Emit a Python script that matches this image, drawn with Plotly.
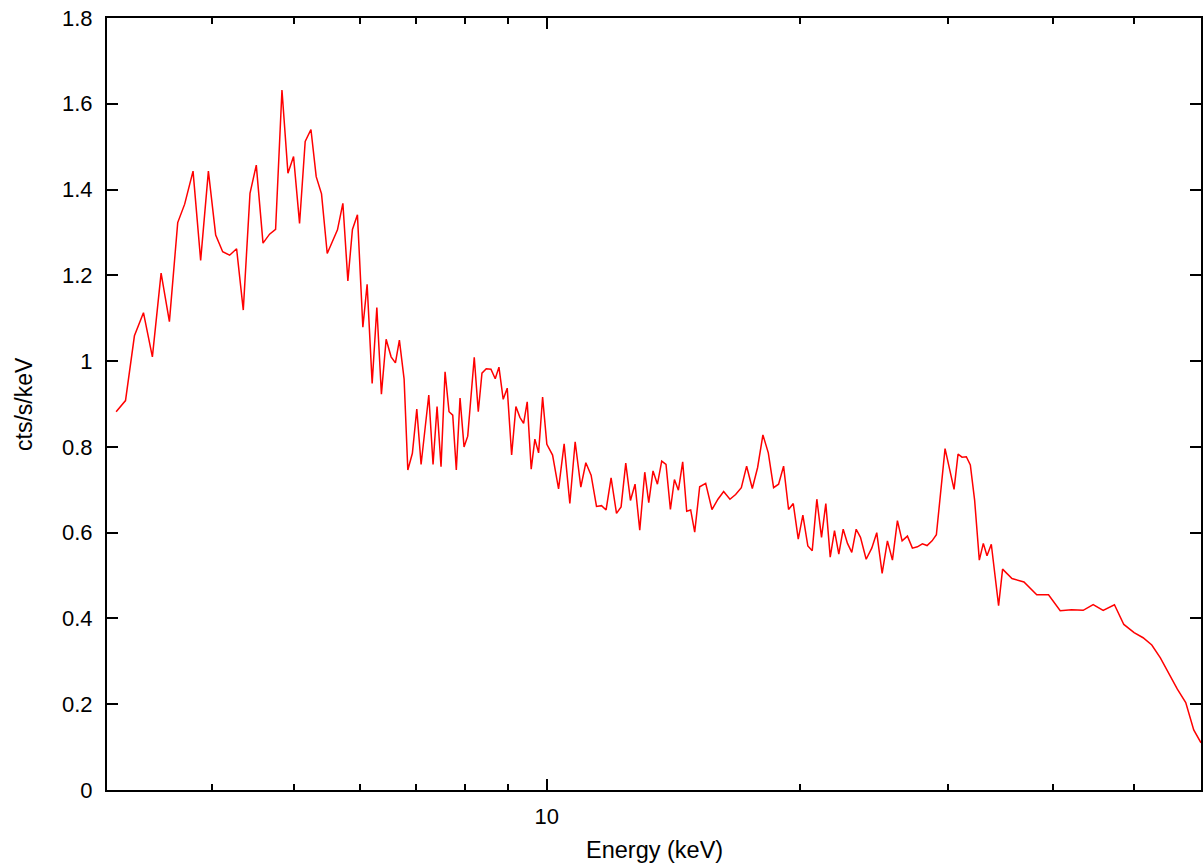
import plotly.graph_objects as go

energy = [3.076, 3.156, 3.234, 3.315, 3.397, 3.479, 3.559, 3.641, 3.711, 3.797,
          3.877, 3.960, 4.040, 4.118, 4.197, 4.278, 4.357, 4.438, 4.515, 4.599,
          4.682, 4.760, 4.844, 4.924, 5.000, 5.083, 5.162, 5.244, 5.320, 5.398,
          5.483, 5.639, 5.723, 5.802, 5.875, 5.956, 6.045, 6.116, 6.201, 6.281,
          6.360, 6.443, 6.531, 6.609, 6.681, 6.768, 6.837, 6.923, 7.007, 7.090,
          7.241, 7.326, 7.407, 7.488, 7.571, 7.654, 7.732, 7.808, 7.888, 7.975,
          8.056, 8.201, 8.292, 8.376, 8.475, 8.585, 8.686, 8.775, 8.878, 8.976,
          9.085, 9.192, 9.293, 9.388, 9.481, 9.585, 9.682, 9.781, 9.889, 10.005,
          10.163, 10.331, 10.490, 10.655, 10.811, 10.980, 11.132, 11.294, 11.462, 11.620,
          11.767, 11.929, 12.107, 12.260, 12.418, 12.579, 12.738, 12.903, 13.081, 13.225,
          13.381, 13.543, 13.703, 13.865, 14.033, 14.188, 14.344, 14.513, 14.673, 14.834,
          14.998, 15.204, 15.456, 15.724, 15.984, 16.235, 16.518, 16.777, 17.041, 17.290,
          17.561, 17.818, 18.078, 18.347, 18.615, 18.871, 19.131, 19.394, 19.645, 19.915,
          20.168, 20.445, 20.693, 20.955, 21.226, 21.477, 21.737, 21.994, 22.254, 22.523,
          22.790, 23.059, 23.339, 23.615, 23.986, 24.356, 24.691, 25.058, 25.424, 25.774,
          26.129, 26.467, 26.854, 27.223, 27.598, 27.978, 28.340, 28.730, 29.070, 29.770,
          30.512, 30.847, 31.187, 31.556, 31.903, 32.280, 32.698, 33.057, 33.393, 33.788,
          34.470, 34.849, 35.756, 36.949, 38.265, 39.520, 40.805, 42.086, 43.454, 44.659,
          45.897, 47.338, 48.571, 49.958, 51.203, 52.436, 53.683, 55.081, 56.238, 57.545,
          58.818, 60.0]

counts = [0.882, 0.908, 1.059, 1.113, 1.010, 1.205, 1.092, 1.323, 1.366, 1.443,
          1.235, 1.443, 1.294, 1.255, 1.247, 1.262, 1.119, 1.391, 1.457, 1.275,
          1.296, 1.307, 1.632, 1.438, 1.477, 1.321, 1.512, 1.540, 1.430, 1.390,
          1.251, 1.306, 1.368, 1.187, 1.307, 1.341, 1.079, 1.179, 0.948, 1.125,
          0.923, 1.051, 1.010, 0.996, 1.049, 0.958, 0.746, 0.785, 0.888, 0.759,
          0.921, 0.759, 0.894, 0.754, 0.975, 0.882, 0.874, 0.746, 0.914, 0.800,
          0.825, 1.009, 0.882, 0.972, 0.982, 0.981, 0.959, 0.986, 0.911, 0.937,
          0.781, 0.894, 0.869, 0.855, 0.905, 0.748, 0.818, 0.786, 0.916, 0.806,
          0.781, 0.702, 0.807, 0.668, 0.812, 0.706, 0.763, 0.734, 0.661, 0.663,
          0.653, 0.728, 0.645, 0.660, 0.762, 0.675, 0.713, 0.606, 0.741, 0.670,
          0.744, 0.713, 0.767, 0.759, 0.654, 0.724, 0.699, 0.765, 0.650, 0.653,
          0.601, 0.707, 0.715, 0.654, 0.678, 0.696, 0.678, 0.689, 0.705, 0.755,
          0.703, 0.752, 0.828, 0.786, 0.705, 0.713, 0.755, 0.654, 0.668, 0.585,
          0.641, 0.569, 0.558, 0.678, 0.589, 0.668, 0.543, 0.605, 0.550, 0.608,
          0.575, 0.554, 0.608, 0.589, 0.538, 0.564, 0.600, 0.505, 0.581, 0.536,
          0.628, 0.581, 0.592, 0.564, 0.567, 0.574, 0.570, 0.581, 0.595, 0.796,
          0.701, 0.783, 0.776, 0.777, 0.758, 0.676, 0.536, 0.575, 0.546, 0.573,
          0.430, 0.515, 0.493, 0.485, 0.455, 0.455, 0.418, 0.420, 0.419, 0.432,
          0.419, 0.432, 0.386, 0.367, 0.355, 0.338, 0.308, 0.266, 0.235, 0.204,
          0.140, 0.110]

x_major = [10]
x_major_text = ["10"]
x_minor = [4, 5, 6, 7, 8, 9, 20, 30, 40, 50]
y_ticks = [0, 0.2, 0.4, 0.6, 0.8, 1.0, 1.2, 1.4, 1.6, 1.8]
y_tick_text = ["0", "0.2", "0.4", "0.6", "0.8", "1", "1.2", "1.4", "1.6", "1.8"]

FONT = "Liberation Sans, Arial, Helvetica, sans-serif"

fig = go.Figure()
fig.add_trace(go.Scatter(x=energy, y=counts, mode="lines",
                         line=dict(color="#ff0000", width=1.5),
                         showlegend=False, hoverinfo="x+y"))

fig.update_layout(
    width=1204, height=866,
    margin=dict(l=107, r=1, t=18, b=76),
    paper_bgcolor="white", plot_bgcolor="white",
    font=dict(family=FONT, size=22, color="black"),
    xaxis=dict(type="log", range=[0.47712, 1.77815],
               tickmode="array", tickvals=x_major, ticktext=x_major_text,
               ticks="inside", ticklen=11, tickwidth=1.5, tickcolor="black",
               minor=dict(tickmode="array", tickvals=x_minor, ticks="inside",
                          ticklen=6, tickwidth=1.5, tickcolor="black", showgrid=False),
               showline=True, linecolor="black", linewidth=2, mirror="ticks",
               showgrid=False, zeroline=False, ticklabelstandoff=6,
               tickfont=dict(size=22)),
    yaxis=dict(range=[0, 1.8], tickmode="array", tickvals=y_ticks, ticktext=y_tick_text,
               ticks="inside", ticklen=11, tickwidth=1.5, tickcolor="black",
               showline=True, linecolor="black", linewidth=2, mirror="ticks",
               showgrid=False, zeroline=False, ticklabelstandoff=8,
               tickfont=dict(size=22)),
    annotations=[
        dict(text="Energy (keV)", x=0.5, y=0, xref="paper", yref="paper",
             xanchor="center", yanchor="middle", yshift=-60, showarrow=False,
             font=dict(size=23.5)),
        dict(text="cts/s/keV", x=0, y=0.5, xref="paper", yref="paper",
             xanchor="center", yanchor="middle", xshift=-83, textangle=-90,
             showarrow=False, font=dict(size=23)),
    ],
)

fig.write_html("out.html")
